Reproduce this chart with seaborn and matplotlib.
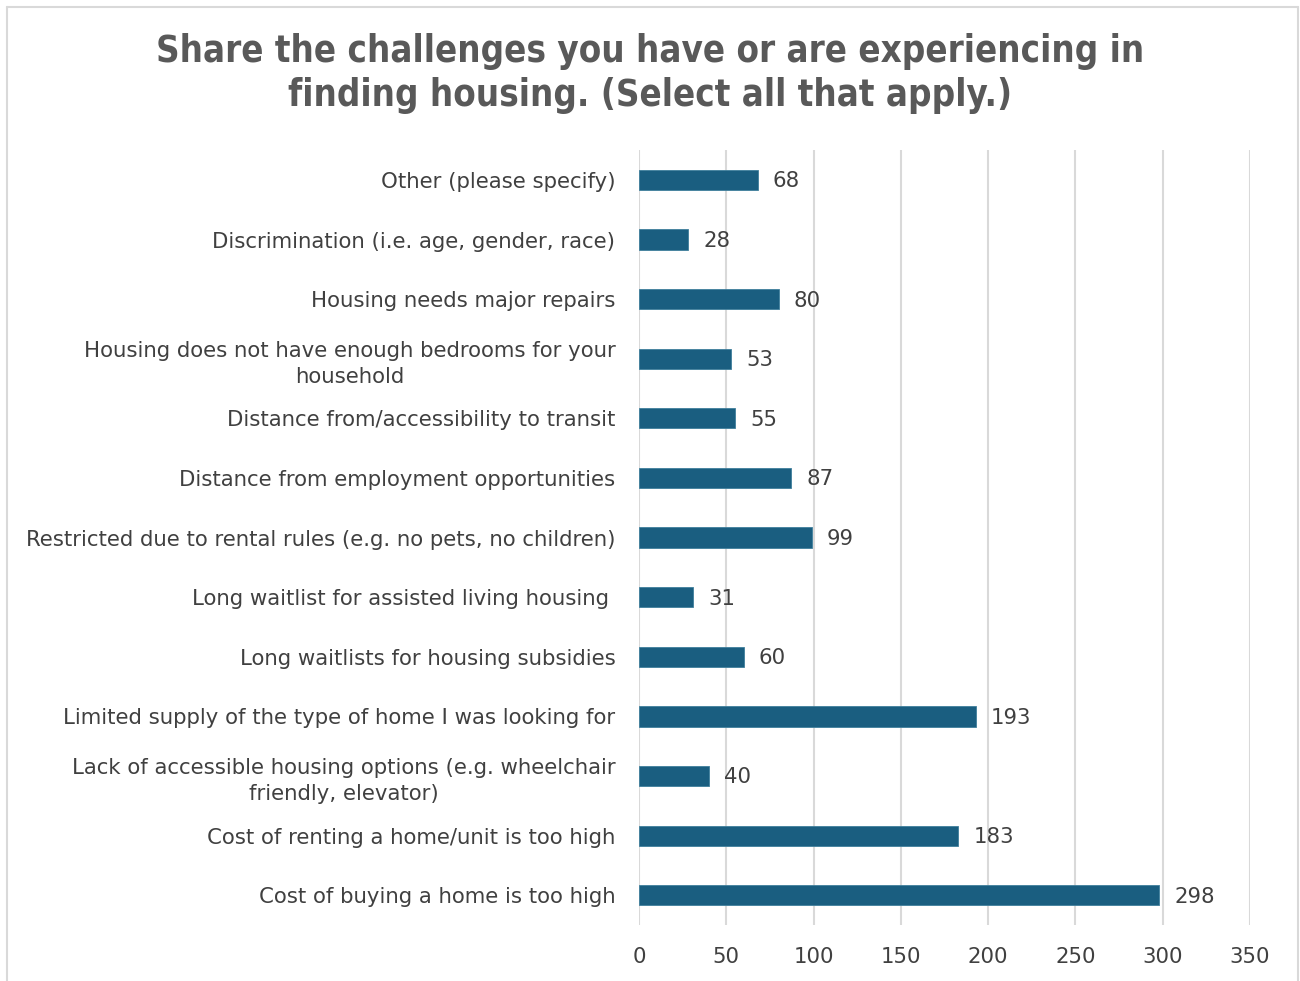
import matplotlib
matplotlib.use("Agg")
import matplotlib.pyplot as plt
import seaborn as sns
import pandas as pd
from matplotlib.lines import Line2D

categories = [
    "Other (please specify)",
    "Discrimination (i.e. age, gender, race)",
    "Housing needs major repairs",
    "Housing does not have enough bedrooms for your\nhousehold",
    "Distance from/accessibility to transit",
    "Distance from employment opportunities",
    "Restricted due to rental rules (e.g. no pets, no children)",
    "Long waitlist for assisted living housing ",
    "Long waitlists for housing subsidies",
    "Limited supply of the type of home I was looking for",
    "Lack of accessible housing options (e.g. wheelchair\nfriendly, elevator)",
    "Cost of renting a home/unit is too high",
    "Cost of buying a home is too high",
]
counts = [68, 28, 80, 53, 55, 87, 99, 31, 60, 193, 40, 183, 298]
x_ticks = [0, 50, 100, 150, 200, 250, 300, 350]

title = "Share the challenges you have or are experiencing in\nfinding housing. (Select all that apply.)"

BAR = "#1a5e80"
GRID = "#d9d9d9"
TEXT = "#404040"
TITLE = "#595959"

sns.set_theme(style="white")
plt.rcParams["font.family"] = ["DejaVu Sans"]

df = pd.DataFrame({"category": categories, "count": counts})

fig = plt.figure(figsize=(13, 9.81), dpi=100)
ax = fig.add_axes([0.4915, 0.057, 0.47, 0.79])

sns.barplot(data=df, x="count", y="category", orient="h", color=BAR,
            width=0.34, saturation=1, edgecolor="#3f7f9c", linewidth=0.6, ax=ax)

ax.set_xlim(0, 350)
ax.set_xticks(x_ticks)
ax.set_xticklabels([str(t) for t in x_ticks])
ax.grid(axis="x", color=GRID, linewidth=1.5)
ax.set_axisbelow(True)
for s in ax.spines.values():
    s.set_visible(False)
ax.set_xlabel("")
ax.set_ylabel("")
ax.tick_params(axis="both", length=0)
ax.tick_params(axis="y", pad=17, labelsize=15.3, labelcolor=TEXT)
ax.tick_params(axis="x", pad=16, labelsize=15.3, labelcolor=TEXT)
for lab in ax.get_yticklabels():
    lab.set_multialignment("center")
    lab.set_linespacing(1.4)

for i, v in enumerate(counts):
    ax.annotate(str(v), xy=(v, i), xytext=(11, -1), textcoords="offset points",
                va="center", ha="left", fontsize=15.3, color=TEXT)

fig.text(0.5, 0.925, title, ha="center", va="center", fontsize=26.3,
         fontweight="bold", fontstretch="condensed", color=TITLE,
         linespacing=1.27)

# chart frame
W, H = 1300, 981
x0, x1, y0 = 7 / W, 1298 / W, 1 - 7 / H
for xs, ys in [([x0, x1], [y0, y0]), ([x0, x0], [0, y0]), ([x1, x1], [0, y0])]:
    fig.add_artist(Line2D(xs, ys, transform=fig.transFigure, color=GRID, linewidth=1.5))

fig.savefig("out.png", dpi=100, facecolor="white")
